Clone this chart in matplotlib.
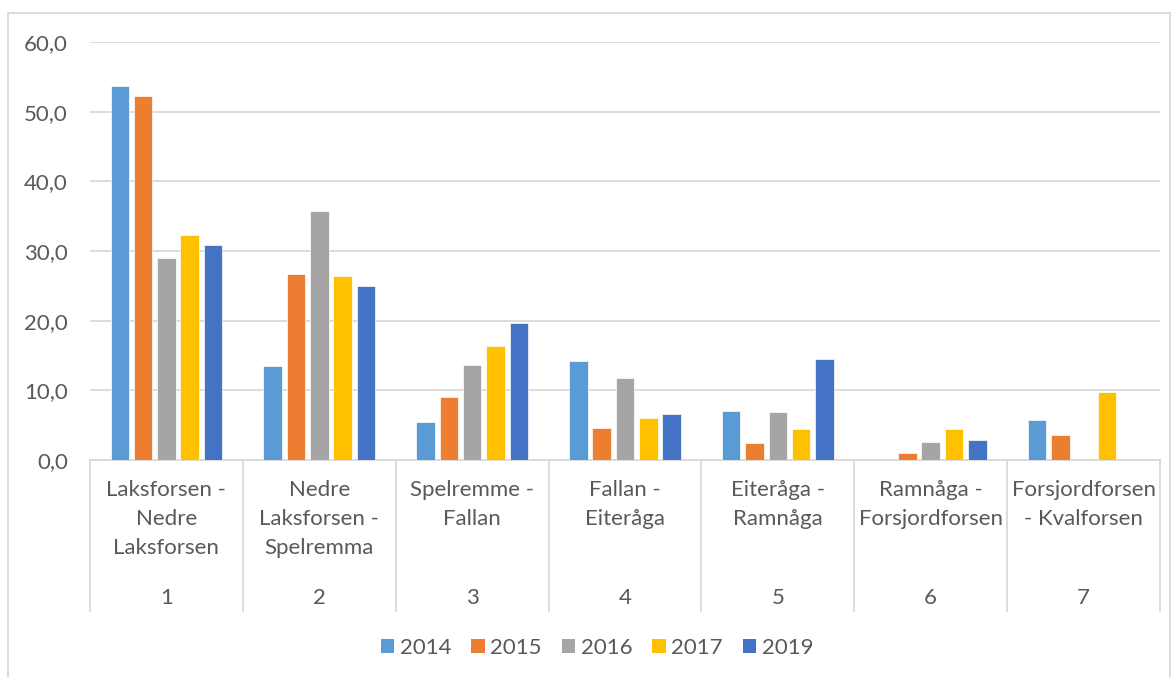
import numpy as np
import matplotlib
matplotlib.use("Agg")
from matplotlib import pyplot as plt
from matplotlib.patches import Patch, Rectangle
from matplotlib import transforms

# data
sections = ["Laksforsen -\nNedre\nLaksforsen", "Nedre\nLaksforsen -\nSpelremma",
            "Spelremme -\nFallan", "Fallan -\nEiteråga", "Eiteråga -\nRamnåga",
            "Ramnåga -\nForsjordforsen", "Forsjordforsen\n- Kvalforsen"]
numbers = ["1", "2", "3", "4", "5", "6", "7"]
years = ["2014", "2015", "2016", "2017", "2019"]
v2014 = [53.7, 13.5, 5.4, 14.2, 7.0, np.nan, 5.8]
v2015 = [52.3, 26.7, 9.1, 4.6, 2.4, 1.0, 3.6]
v2016 = [29.0, 35.7, 13.7, 11.7, 6.9, 2.6, np.nan]
v2017 = [32.3, 26.4, 16.3, 6.1, 4.4, 4.4, 9.7]
v2019 = [30.9, 25.0, 19.7, 6.6, 14.5, 2.9, np.nan]
colors = ["#5B9BD5", "#ED7D31", "#A5A5A5", "#FFC000", "#4472C4"]

plt.rcParams['font.family'] = ['Lato', 'DejaVu Sans']
txt = "#595959"
grid = "#D9D9D9"
fs = 16

fig = plt.figure(figsize=(11.73, 6.77), dpi=100)
ax = fig.add_axes([90/1173, 1-460/677, 1070/1173, 418/677])

x = np.arange(len(sections))
pitch = 0.1525
width = 0.121
series = [v2014, v2015, v2016, v2017, v2019]
for k, vals in enumerate(series):
    ax.bar(x + (k-2)*pitch, vals, width, color=colors[k], edgecolor='white',
           linewidth=0.5, zorder=3)

ax.set_xlim(-0.5, len(sections)-0.5)
ax.set_ylim(0, 60)
ax.set_yticks(np.arange(0, 61, 10))
ax.set_yticklabels([f"{v:.1f}".replace(".", ",") for v in np.arange(0, 61, 10)],
                   fontsize=fs, color=txt)
ax.tick_params(axis='y', length=0, pad=16)
ax.grid(axis='y', color=grid, linewidth=1.3, zorder=0)
for s in ['top', 'right', 'left']:
    ax.spines[s].set_visible(False)
ax.spines['bottom'].set_color(grid)
ax.spines['bottom'].set_linewidth(1.3)
ax.set_xticks([])

# two-level category axis
trans = transforms.blended_transform_factory(ax.transData, ax.transAxes)
for i in range(len(sections)+1):
    ax.plot([i-0.5, i-0.5], [0, -151/418], color=grid, lw=1.3,
            transform=trans, clip_on=False)
for i, (lab, num) in enumerate(zip(sections, numbers)):
    ax.text(i, -20/418, lab, transform=trans, ha='center', va='top',
            fontsize=fs, color=txt, linespacing=1.55)
    ax.text(i, -138/418, num, transform=trans, ha='center', va='center',
            fontsize=fs, color=txt)

handles = [Patch(facecolor=c, label=y) for c, y in zip(colors, years)]
fig.legend(handles=handles, loc='center', bbox_to_anchor=(0.509, 1-648/677),
           ncol=5, frameon=False, fontsize=fs, labelcolor=txt,
           handlelength=0.6, handleheight=0.6, handletextpad=0.25,
           columnspacing=0.9)

fig.add_artist(Rectangle((8/1173, -0.01), 1162/1173, 1.01-13/677,
                         transform=fig.transFigure, fill=False,
                         edgecolor=grid, linewidth=1.3))

fig.savefig("out.png", dpi=100)
